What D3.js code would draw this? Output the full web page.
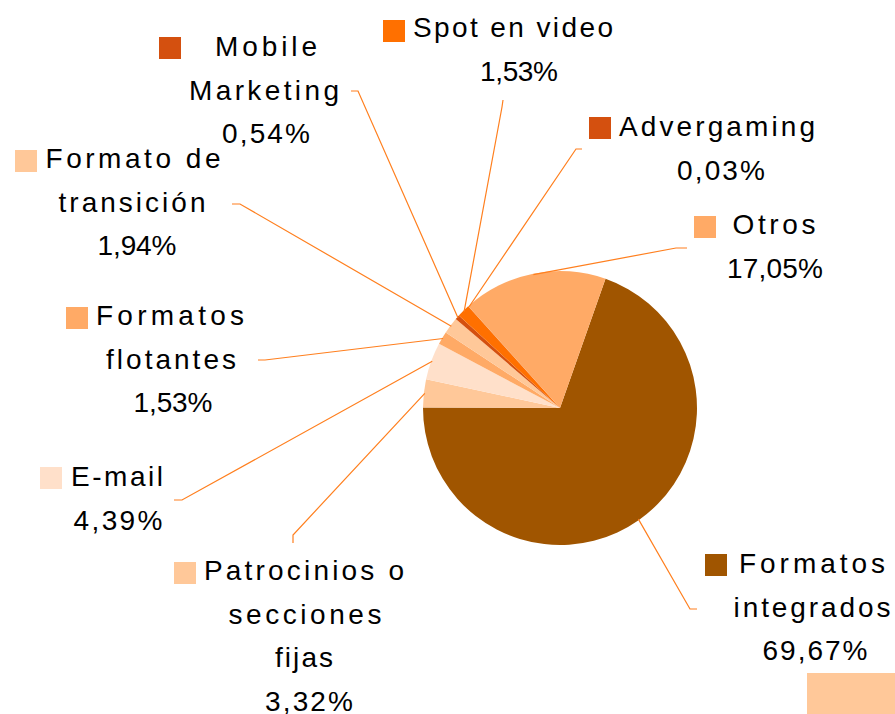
<!DOCTYPE html>
<meta charset="utf-8">
<style>
    body {
        margin: 0;
        background: #fff;
    }

    svg {
        display: block;
        font-family: "Liberation Sans", Arial, sans-serif;
    }

    .label text {
        font-size: 28px;
        fill: #000;
    }

    .leader {
        fill: none;
        stroke: #ff7f1e;
        stroke-width: 1.2;
    }
</style>
<body>
<script src="https://cdn.jsdelivr.net/npm/d3@7"></script>
<script>
    // data, in pie order (clockwise, starting with Formatos integrados)
    const categories = ['Formatos integrados', 'Patrocinios o secciones fijas', 'E-mail', 'Formatos flotantes',
        'Formato de transición', 'Mobile Marketing', 'Spot en video', 'Advergaming', 'Otros'];
    const values = [69.67, 3.32, 4.39, 1.53, 1.94, 0.54, 1.53, 0.03, 17.05];
    const valueLabels = ['69,67%', '3,32%', '4,39%', '1,53%', '1,94%', '0,54%', '1,53%', '0,03%', '17,05%'];
    const colors = ['#a05500', '#ffc899', '#ffe0ca', '#ffaa66', '#ffc899', '#d4500f', '#ff7000', '#d4500f', '#ffaa66'];

    // how the label of each category breaks into lines
    const labelLines = [
        ['Formatos', 'integrados'],
        ['Patrocinios o', 'secciones', 'fijas'],
        ['E-mail'],
        ['Formatos', 'flotantes'],
        ['Formato de', 'transición'],
        ['Mobile', 'Marketing'],
        ['Spot en video'],
        ['Advergaming'],
        ['Otros']
    ];

    // label layout: line centre x, first baseline, line widths, key square, leader start & elbow
    const labelLayout = [
        {cx: [812, 812, 815], y: 573, w: [146, 157, 105], key: [705, 554], lead: [[697, 609], [690, 609]]},
        {cx: [304, 305, 304, 309], y: 580, w: [200, 153, 58, 88], key: [174, 562], lead: [[293, 543], [293, 535]]},
        {cx: [117, 118], y: 486, w: [92, 89], key: [40, 467], lead: [[174, 500], [182, 500]]},
        {cx: [170, 171, 173], y: 325, w: [148, 130, 79], key: [66, 307], lead: [[258, 360], [265, 360]]},
        {cx: [133, 132, 137], y: 168, w: [175, 147, 79], key: [15, 150], lead: [[232, 204], [240, 204]]},
        {cx: [266, 264, 266], y: 56, w: [102, 150, 88], key: [159, 37], lead: [[351, 91], [358, 91]]},
        {cx: [513, 519], y: 37, w: [200, 78], key: [383, 20], lead: [[503, 100], [502, 107]]},
        {cx: [717, 721], y: 136, w: [196, 88], key: [589, 117], lead: [[582, 149], [576, 149]]},
        {cx: [774, 775], y: 234, w: [83, 96], key: [694, 216], lead: [[687, 248], [676, 248]]}
    ];

    const width = 895;
    const height = 714;
    const radius = 137;
    const lineHeight = 43.5;

    const svg = d3.select('body')
        .append('svg')
        .attr('width', width)
        .attr('height', height);

    const slices = categories.map((c, i) => ({name: c, value: values[i], i: i}));

    const pie = d3.pie()
        .sort(null)
        .value(d => d.value)
        .startAngle(19.4 * Math.PI / 180)
        .endAngle(19.4 * Math.PI / 180 + 2 * Math.PI);

    const arc = d3.arc().innerRadius(0).outerRadius(radius);
    const edge = d3.arc().innerRadius(radius - 1).outerRadius(radius - 1);

    const arcs = pie(slices);

    const chart = svg.append('g')
        .attr('class', 'pie')
        .attr('transform', 'translate(560,408)');

    chart.selectAll('path')
        .data(arcs)
        .enter().append('path')
        .attr('d', arc)
        .style('fill', d => colors[d.data.i]);

    // leader lines
    svg.append('g')
        .selectAll('.leader')
        .data(arcs)
        .enter().append('polyline')
        .attr('class', 'leader')
        .attr('points', d => {
            const L = labelLayout[d.data.i].lead;
            const c = edge.centroid(d);
            return [L[0], L[1], [c[0] + 560, c[1] + 408]].map(p => p.join(',')).join(' ');
        });

    // labels
    const label = svg.append('g')
        .selectAll('.label')
        .data(slices)
        .enter().append('g')
        .attr('class', 'label');

    label.append('rect')
        .attr('x', d => labelLayout[d.i].key[0])
        .attr('y', d => labelLayout[d.i].key[1])
        .attr('width', 22)
        .attr('height', 22)
        .style('fill', d => colors[d.i]);

    label.each(function (d) {
        const lay = labelLayout[d.i];
        const lines = labelLines[d.i].concat([valueLabels[d.i]]);
        d3.select(this).selectAll('text')
            .data(lines)
            .enter().append('text')
            .attr('x', (t, j) => lay.cx[j])
            .attr('y', (t, j) => lay.y + j * lineHeight)
            .attr('text-anchor', 'middle')
            .attr('textLength', (t, j) => lay.w[j])
            .attr('lengthAdjust', 'spacing')
            .text(t => t);
    });

    // cut-off legend swatch in the lower right corner
    svg.append('rect')
        .attr('x', 807)
        .attr('y', 673)
        .attr('width', 88)
        .attr('height', 41)
        .style('fill', '#ffc899');
</script>
</body>
</html>
